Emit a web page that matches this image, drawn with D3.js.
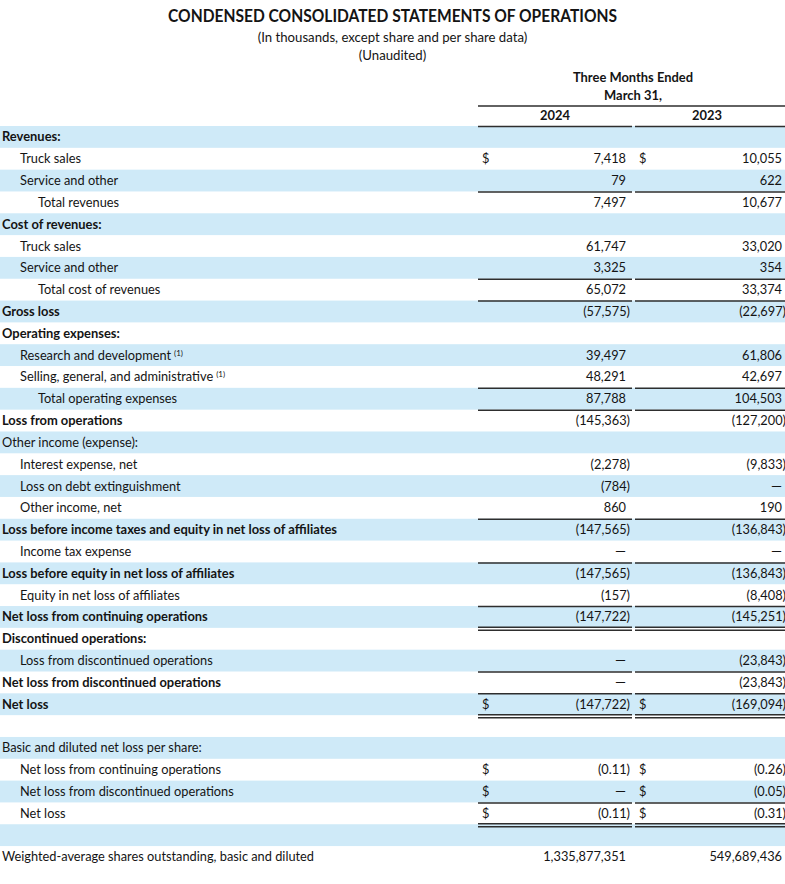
<!DOCTYPE html>
<html>
<head>
<meta charset="utf-8">
<title>Condensed Consolidated Statements of Operations</title>
<script src="https://cdnjs.cloudflare.com/ajax/libs/d3/7.8.5/d3.min.js"></script>
<style>
  body { margin: 0; background: #fff; }
  svg text { font-family: Lato, "Open Sans", sans-serif; fill: #141414; }
</style>
</head>
<body>
<svg id="stmt" width="785" height="884"></svg>
<script>
// row labels, top to bottom
var labels = [
  "Revenues:", "Truck sales", "Service and other", "Total revenues",
  "Cost of revenues:", "Truck sales", "Service and other", "Total cost of revenues",
  "Gross loss", "Operating expenses:", "Research and development", "Selling, general, and administrative",
  "Total operating expenses", "Loss from operations", "Other income (expense):", "Interest expense, net",
  "Loss on debt extinguishment", "Other income, net",
  "Loss before income taxes and equity in net loss of affiliates", "Income tax expense",
  "Loss before equity in net loss of affiliates", "Equity in net loss of affiliates",
  "Net loss from continuing operations", "Discontinued operations:", "Loss from discontinued operations",
  "Net loss from discontinued operations", "Net loss", "",
  "Basic and diluted net loss per share:", "Net loss from continuing operations",
  "Net loss from discontinued operations", "Net loss", "",
  "Weighted-average shares outstanding, basic and diluted"
];

// values, thousands (per share rows in dollars, shares in units); null = no figure, 0 = dash
var values2024 = [null, 7418, 79, 7497, null, 61747, 3325, 65072, -57575, null, 39497, 48291, 87788, -145363,
  null, -2278, -784, 860, -147565, 0, -147565, -157, -147722, null, 0, 0, -147722, null,
  null, -0.11, 0, -0.11, null, 1335877351];
var values2023 = [null, 10055, 622, 10677, null, 33020, 354, 33374, -22697, null, 61806, 42697, 104503, -127200,
  null, -9833, 0, 190, -136843, 0, -136843, -8408, -145251, null, -23843, -23843, -169094, null,
  null, -0.26, -0.05, -0.31, null, 549689436];

var years = ["2024", "2023"];

// formatting of rows (kept apart from the figures)
var boldRows = [0, 4, 8, 9, 13, 18, 20, 22, 23, 25, 26];
var indent1Rows = [1, 2, 5, 6, 10, 11, 15, 16, 17, 19, 21, 24, 29, 30, 31];
var indent2Rows = [3, 7, 12];
var footnoteRows = [10, 11];
var dollarRows = [1, 26, 29, 30, 31];
var perShareRows = [29, 30, 31];
var ruleAboveRows = [3, 7, 8, 12, 13, 18, 20, 22, 25, 26, 31];
var doubleBelowRows = [22, 26, 31];

var svg = d3.select('#stmt');
var W = 785;
var FS = 12.8;

var y = d3.scaleBand()
  .domain(d3.range(labels.length))
  .range([126, 126 + labels.length * 21.82]);

// column spans for the two years
var col = d3.scaleOrdinal().domain(years).range([[478, 632], [635, 785]]);

// stripes
svg.append('g').selectAll('rect')
  .data(d3.range(labels.length).filter(function(i) { return i % 2 === 0; }))
  .enter().append('rect')
  .attr('x', 0).attr('width', W)
  .attr('y', function(i) { return y(i); })
  .attr('height', y.bandwidth())
  .attr('fill', '#cfeaf8');

// titles
var head = svg.append('g').attr('text-anchor', 'middle');
head.append('text').attr('class', 'title').attr('x', W / 2).attr('y', 22)
  .attr('font-size', 16.5).attr('font-weight', 'bold')
  .text('CONDENSED CONSOLIDATED STATEMENTS OF OPERATIONS');
head.append('text').attr('class', 'reg').attr('x', W / 2).attr('y', 42).attr('font-size', 13.2)
  .text('(In thousands, except share and per share data)');
head.append('text').attr('class', 'reg').attr('x', W / 2).attr('y', 60).attr('font-size', 13.2)
  .text('(Unaudited)');
head.append('text').attr('class', 'bold').attr('x', 633).attr('y', 82).attr('font-size', FS)
  .attr('font-weight', 'bold').text('Three Months Ended');
head.append('text').attr('class', 'bold').attr('x', 633).attr('y', 100).attr('font-size', FS)
  .attr('font-weight', 'bold').text('March 31,');
head.selectAll('text.yr').data(years).enter().append('text')
  .attr('class', 'yr bold')
  .attr('x', function(d) { var c = col(d); return (c[0] + c[1]) / 2 + (d === '2023' ? -3 : 0); })
  .attr('y', 120).attr('font-size', FS).attr('font-weight', 'bold')
  .text(function(d) { return d; });

var rules = svg.append('g').attr('stroke', '#2e2e2e').attr('stroke-width', 1.5);
rules.append('line').attr('x1', 478).attr('x2', W).attr('y1', 106).attr('y2', 106);
years.forEach(function(yr) {
  rules.append('line').attr('x1', col(yr)[0]).attr('x2', col(yr)[1]).attr('y1', 126.5).attr('y2', 126.5);
});

// row labels
var lab = svg.append('g').attr('font-size', FS);
labels.forEach(function(t, i) {
  if (!t) return;
  var x = 2;
  if (indent1Rows.indexOf(i) >= 0) x = 20;
  if (indent2Rows.indexOf(i) >= 0) x = 38;
  var bold = boldRows.indexOf(i) >= 0;
  var el = lab.append('text')
    .attr('class', bold ? 'bold' : 'reg')
    .attr('x', x).attr('y', y(i) + y.bandwidth() / 2 + 4.5)
    .attr('font-weight', bold ? 'bold' : 'normal')
    .text(t);
  if (footnoteRows.indexOf(i) >= 0) {
    el.append('tspan').attr('font-size', 8).attr('dy', -4).text(' \u2009(1)');
  }
});

// figures
var fmt0 = d3.format(',');
var fmt2 = d3.format('.2f');
function fmtVal(v, i) {
  if (v === 0) return '\u2014';
  var s = perShareRows.indexOf(i) >= 0 ? fmt2(Math.abs(v)) : fmt0(Math.abs(v));
  return v < 0 ? '(' + s + ')' : s;
}

var num = svg.append('g').attr('font-size', FS);
[values2024, values2023].forEach(function(vals, k) {
  var c = col(years[k]);
  var right = c[1] - (k === 0 ? 6 : 3);
  vals.forEach(function(v, i) {
    if (v === null) return;
    var cy = y(i) + y.bandwidth() / 2 + 4.5;
    num.append('text').attr('class', v === 0 ? 'dash' : 'reg')
      .attr('text-anchor', 'end')
      .attr('x', v < 0 ? right + 4 : right)
      .attr('y', cy)
      .text(fmtVal(v, i));
    if (dollarRows.indexOf(i) >= 0) {
      num.append('text').attr('class', 'reg')
        .attr('x', c[0] + 4).attr('y', cy).text('$');
    }
  });
});

// underlines
years.forEach(function(yr) {
  var c = col(yr);
  ruleAboveRows.forEach(function(i) {
    rules.append('line').attr('x1', c[0]).attr('x2', c[1])
      .attr('y1', y(i) + 0.5).attr('y2', y(i) + 0.5);
  });
  doubleBelowRows.forEach(function(i) {
    var b = y(i) + y.bandwidth();
    [b - 0.5, b + 2.5].forEach(function(yy) {
      rules.append('line').attr('x1', c[0]).attr('x2', c[1])
        .attr('y1', yy).attr('y2', yy);
    });
  });
});

// squeeze glyphs horizontally to the narrower face of the original
function widthOf(str, size, weight) {
  var t = svg.append('text').attr('font-size', size).attr('font-weight', weight).text(str);
  var w = t.node().getComputedTextLength();
  t.remove();
  return w;
}
var kReg = 312 / widthOf('Weighted-average shares outstanding, basic and diluted', FS, 'normal');
var kBold = 335 / widthOf('Loss before income taxes and equity in net loss of affiliates', FS, 'bold');
var kTitle = 449 / widthOf('CONDENSED CONSOLIDATED STATEMENTS OF OPERATIONS', 16.5, 'bold');

function squeeze(sel, k) {
  sel.each(function() {
    var w = this.getComputedTextLength();
    d3.select(this).attr('textLength', w * k).attr('lengthAdjust', 'spacingAndGlyphs');
  });
}
squeeze(svg.selectAll('text.reg'), kReg);
squeeze(svg.selectAll('text.bold'), kBold);
squeeze(svg.selectAll('text.title'), kTitle);
// the dash is set a little wider, as in the source
svg.selectAll('text.dash').attr('textLength', 11).attr('lengthAdjust', 'spacingAndGlyphs');
</script>
</body>
</html>
